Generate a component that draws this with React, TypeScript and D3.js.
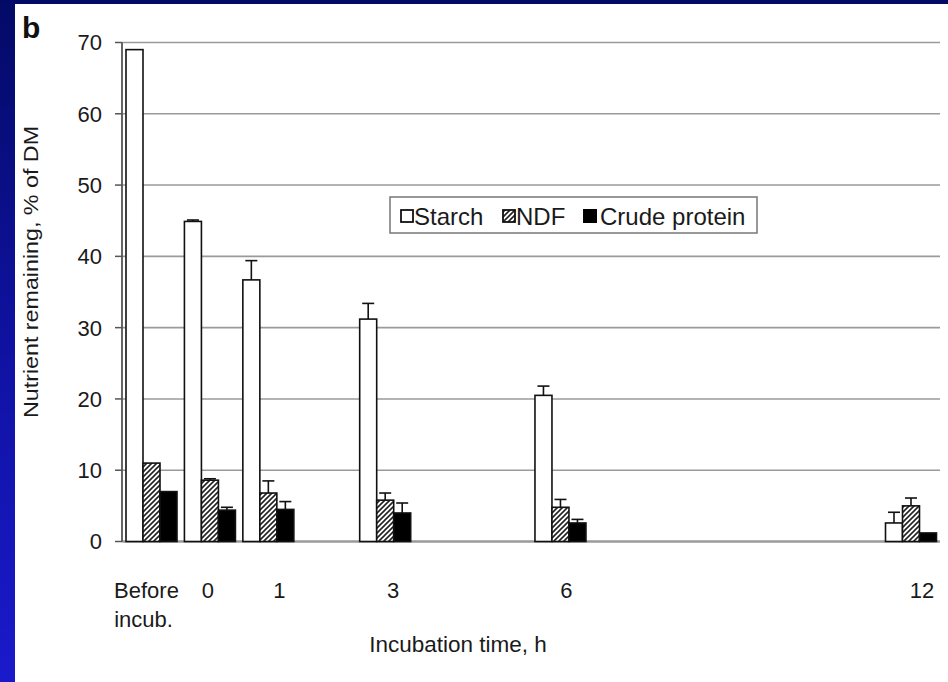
import React from "react";
import * as d3 from "d3";

const categories = ["Before incub.", "0", "1", "3", "6", "12"];
const timePositions = [-1, 0, 1, 3, 6, 12];
const starch = [69.0, 44.9, 36.7, 31.2, 20.5, 2.6];
const starchErr = [0, 0.2, 2.7, 2.2, 1.3, 1.5];
const ndf = [11.0, 8.6, 6.8, 5.8, 4.8, 5.0];
const ndfErr = [0, 0.2, 1.7, 1.0, 1.1, 1.1];
const crudeProtein = [7.0, 4.4, 4.5, 4.0, 2.6, 1.2];
const crudeProteinErr = [0, 0.4, 1.1, 1.4, 0.5, 0];
const yTicks = [0, 10, 20, 30, 40, 50, 60, 70];
const seriesNames = ["Starch", "NDF", "Crude protein"];

const W = 948;
const H = 682;
const FONT = "'Liberation Sans', Arial, Helvetica, sans-serif";
// small horizontal nudges of the category labels relative to the bar groups (layout only)
const LABEL_NUDGE = [-5, -2, 11, 8, 6, 11];

export default function App() {
  const x = d3.scaleLinear().domain([-1, 12]).range([151.5, 911]);
  const y = d3.scaleLinear().domain([0, 70]).range([541.5, 42.5]);
  const barW = 17;
  const axisX = 122;
  const gridRight = 940;
  const textColor = "#1a1a1a";

  const series = [
    { name: seriesNames[0], values: starch, err: starchErr, fill: "#ffffff" },
    { name: seriesNames[1], values: ndf, err: ndfErr, fill: "url(#hatch)" },
    { name: seriesNames[2], values: crudeProtein, err: crudeProteinErr, fill: "#000000" },
  ];

  return (
    <svg
      width={W}
      height={H}
      style={{ position: "absolute", left: 0, top: 0, display: "block" }}
      fontFamily={FONT}
    >
      <defs>
        <linearGradient id="bg" x1="0" y1="0" x2="0" y2="1">
          <stop offset="0" stopColor="#030a66" />
          <stop offset="0.5" stopColor="#0f12a0" />
          <stop offset="1" stopColor="#1a1acb" />
        </linearGradient>
        <pattern id="hatch" patternUnits="userSpaceOnUse" width="5" height="5">
          <rect width="5" height="5" fill="#ffffff" />
          <path d="M-1,6 L6,-1 M-2,2 L2,-2 M3,7 L7,3" stroke="#222" strokeWidth="1.6" />
        </pattern>
      </defs>
      <rect x={0} y={0} width={W} height={H} fill="url(#bg)" />
      <rect x={15} y={4} width={W - 15} height={H - 4} fill="#ffffff" />

      {/* panel letter */}
      <text x={22} y={38} fontSize={30} fontWeight="bold" fill="#111">b</text>

      {/* gridlines */}
      {yTicks.map((t) => (
        <g key={t}>
          <line x1={axisX} x2={gridRight} y1={y(t)} y2={y(t)} stroke="#9a9a9a" strokeWidth={t === 0 ? 2.5 : 1.6} />
          <line x1={115} x2={axisX} y1={y(t)} y2={y(t)} stroke="#555" strokeWidth={1.5} />
          <text x={102} y={y(t)} dy="0.36em" textAnchor="end" fontSize={22} fill={textColor}>{t}</text>
        </g>
      ))}
      {/* y axis line */}
      <line x1={axisX} x2={axisX} y1={y(70)} y2={y(0)} stroke="#555" strokeWidth={1.8} />

      {/* bars */}
      {series.map((s, si) => (
        <g key={s.name}>
          {s.values.map((v, i) => {
            const cx = x(timePositions[i]);
            const bx = cx - 1.5 * barW + si * barW;
            return (
              <g key={i}>
                <rect x={bx} y={y(v)} width={barW} height={y(0) - y(v)} fill={s.fill} stroke="#111" strokeWidth={1.6} />
                {s.err[i] > 0 && (
                  <g stroke="#111" strokeWidth={1.6}>
                    <line x1={bx + barW / 2} x2={bx + barW / 2} y1={y(v)} y2={y(v + s.err[i])} />
                    <line x1={bx + barW / 2 - 6} x2={bx + barW / 2 + 6} y1={y(v + s.err[i])} y2={y(v + s.err[i])} />
                  </g>
                )}
              </g>
            );
          })}
        </g>
      ))}

      {/* x labels */}
      {categories.map((c, i) => {
        const cx = x(timePositions[i]) + LABEL_NUDGE[i];
        if (c === "Before incub.") {
          const [l1, l2] = ["Before", "incub."];
          return (
            <text key={c} textAnchor="middle" fontSize={22} fill={textColor}>
              <tspan x={cx} y={598}>{l1}</tspan>
              <tspan x={cx - 3} y={627}>{l2}</tspan>
            </text>
          );
        }
        return (
          <text key={c} x={cx} y={598} textAnchor="middle" fontSize={22} fill={textColor}>{c}</text>
        );
      })}

      {/* axis titles */}
      <text x={458} y={652} textAnchor="middle" fontSize={22.5} fill={textColor}>Incubation time, h</text>
      <text
        transform={`translate(38, 272) rotate(-90)`}
        textAnchor="middle"
        fontSize={20}
        textLength={292}
        lengthAdjust="spacingAndGlyphs"
        fill={textColor}
      >
        Nutrient remaining, % of DM
      </text>

      {/* legend */}
      <g>
        <rect x={390} y={197} width={367} height={36} fill="#ffffff" stroke="#777" strokeWidth={1.5} />
        <rect x={401} y={210} width={12} height={12} fill="#ffffff" stroke="#111" strokeWidth={1.8} />
        <text x={414} y={225} fontSize={24} fill={textColor}>{seriesNames[0]}</text>
        <rect x={503} y={210} width={12} height={12} fill="url(#hatch)" stroke="#111" strokeWidth={1.8} />
        <text x={516} y={225} fontSize={24} fill={textColor}>{seriesNames[1]}</text>
        <rect x={583} y={209} width={14} height={14} fill="#000" />
        <text x={600} y={225} fontSize={24} fill={textColor}>{seriesNames[2]}</text>
      </g>
    </svg>
  );
}
